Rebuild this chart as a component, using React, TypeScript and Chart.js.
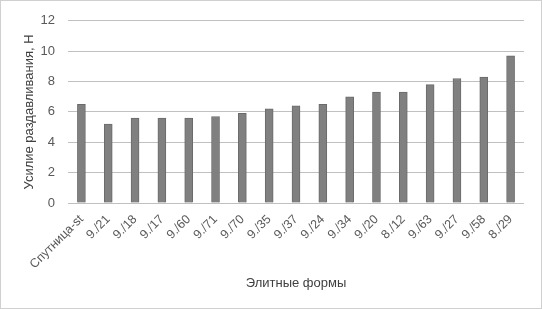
import React, { useEffect, useRef } from "react";
import { Chart, registerables } from "chart.js";

Chart.register(...registerables);

const categories = ["Спутница-st", "9./21", "9./18", "9./17", "9./60", "9./71", "9./70", "9./35", "9./37", "9./24", "9./34", "9./20", "8./12", "9./63", "9./27", "9./58", "8./29"];
const values = [6.5, 5.2, 5.6, 5.6, 5.6, 5.7, 5.9, 6.2, 6.4, 6.5, 7.0, 7.3, 7.3, 7.8, 8.2, 8.3, 9.7];
const yTicks = [0, 2, 4, 6, 8, 10, 12];
const yTitle = "Усилие раздавливания, Н";
const xTitle = "Элитные формы";

const FONT = "'Liberation Sans', Arial, sans-serif";

export default function App() {
  const ref = useRef<HTMLCanvasElement>(null);
  useEffect(() => {
    const borderPlugin = {
      id: "outerBorder",
      afterDraw(chart: any) {
        const ctx = chart.ctx;
        ctx.save();
        ctx.strokeStyle = "#d0d0d0";
        ctx.lineWidth = 1;
        ctx.strokeRect(0.5, 0.5, chart.width - 1, chart.height - 1);
        ctx.restore();
      },
    };
    const chart = new Chart(ref.current!, {
      type: "bar",
      data: {
        labels: categories,
        datasets: [
          {
            data: values,
            backgroundColor: "#808080",
            borderColor: "#6a6a6a",
            borderWidth: 1,
            barThickness: 8,
          },
        ],
      },
      plugins: [borderPlugin],
      options: {
        animation: false,
        responsive: false,
        layout: { padding: { top: 15, right: 18, bottom: 12, left: 0 } },
        plugins: { legend: { display: false }, tooltip: { enabled: false } },
        scales: {
          x: {
            grid: { display: false, drawTicks: false },
            border: { display: false },
            ticks: {
              color: "#595959",
              font: { family: FONT, size: 12.5 },
              maxRotation: 45,
              minRotation: 45,
              autoSkip: false,
              padding: 9,
            },
            title: {
              display: true,
              text: xTitle,
              color: "#404040",
              font: { family: FONT, size: 13 },
              padding: { top: 0, bottom: 6 },
            },
            afterFit(scale: any) {
              scale.height = 309 - 203 - 12;
            },
          },
          y: {
            min: 0,
            max: 12,
            afterBuildTicks(scale: any) {
              scale.ticks = yTicks.map((v) => ({ value: v }));
            },
            grid: { color: "#c0c0c0", drawTicks: false, lineWidth: 1 },
            border: { display: false },
            ticks: {
              color: "#595959",
              font: { family: FONT, size: 13 },
              padding: 13,
            },
            title: {
              display: true,
              text: yTitle,
              color: "#404040",
              font: { family: FONT, size: 13 },
              padding: { top: 22, bottom: 0 },
            },
            afterFit(scale: any) {
              scale.width = 68;
            },
          },
        },
      },
    });
    return () => chart.destroy();
  }, []);
  return (
    <div style={{ position: "absolute", left: 0, top: 0, width: 542, height: 309, background: "#fff" }}>
      <canvas ref={ref} width={542} height={309} style={{ width: 542, height: 309 }} />
    </div>
  );
}
